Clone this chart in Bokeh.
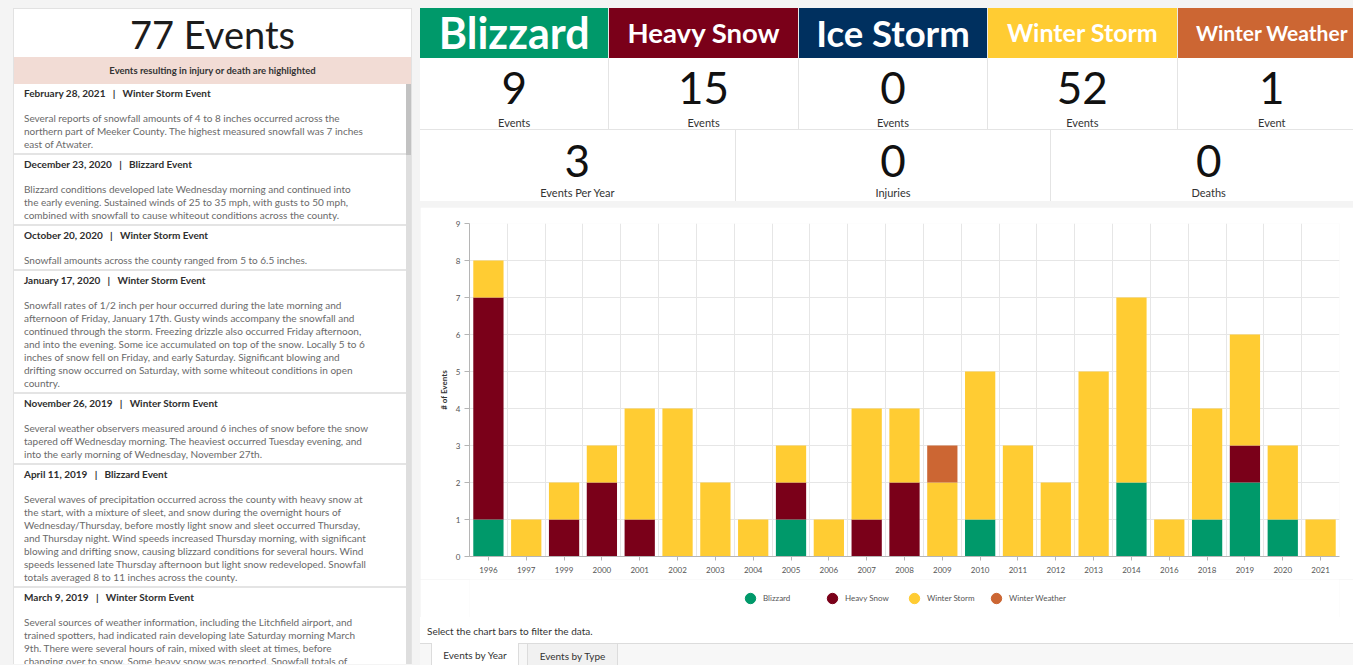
from bokeh.plotting import figure
from bokeh.models import ColumnDataSource, Range1d, FixedTicker, Legend, LegendItem, Div
from bokeh.layouts import row, column
from bokeh.embed import file_html
from bokeh.resources import INLINE

# ---------------- chart data ----------------
years = ["1996", "1997", "1999", "2000", "2001", "2002", "2003", "2004", "2005", "2006", "2007", "2008",
         "2009", "2010", "2011", "2012", "2013", "2014", "2016", "2018", "2019", "2020", "2021"]
blizzard = [1, 0, 0, 0, 0, 0, 0, 0, 1, 0, 0, 0, 0, 1, 0, 0, 0, 2, 0, 1, 2, 1, 0]
heavy_snow = [6, 0, 1, 2, 1, 0, 0, 0, 1, 0, 1, 2, 0, 0, 0, 0, 0, 0, 0, 0, 1, 0, 0]
winter_storm = [1, 1, 1, 1, 3, 4, 2, 1, 1, 1, 3, 2, 2, 4, 3, 2, 5, 5, 1, 3, 3, 2, 1]
winter_weather = [0, 0, 0, 0, 0, 0, 0, 0, 0, 0, 0, 0, 1, 0, 0, 0, 0, 0, 0, 0, 0, 0, 0]
type_names = ["Blizzard", "Heavy Snow", "Winter Storm", "Winter Weather"]
type_colors = ["#00996a", "#7a0019", "#ffcc33", "#cc6633"]
y_ticks = [0, 1, 2, 3, 4, 5, 6, 7, 8, 9]

# ---------------- summary cards ----------------
card_names = ["Blizzard", "Heavy Snow", "Ice Storm", "Winter Storm", "Winter Weather"]
card_colors = ["#00996a", "#7a0019", "#00305f", "#ffcc33", "#cc6633"]
card_font_px = [43, 27.5, 36.5, 25, 21]
card_counts = ["9", "15", "0", "52", "1"]
card_units = ["Events", "Events", "Events", "Events", "Event"]
summary_values = ["3", "0", "0"]
summary_labels = ["Events Per Year", "Injuries", "Deaths"]
total_events = "77 Events"
highlight_note = "Events resulting in injury or death are highlighted"

events = [
    ("February 28, 2021", "Winter Storm Event", [
        "Several reports of snowfall amounts of 4 to 8 inches occurred across the",
        "northern part of Meeker County. The highest measured snowfall was 7 inches",
        "east of Atwater."]),
    ("December 23, 2020", "Blizzard Event", [
        "Blizzard conditions developed late Wednesday morning and continued into",
        "the early evening. Sustained winds of 25 to 35 mph, with gusts to 50 mph,",
        "combined with snowfall to cause whiteout conditions across the county."]),
    ("October 20, 2020", "Winter Storm Event", [
        "Snowfall amounts across the county ranged from 5 to 6.5 inches."]),
    ("January 17, 2020", "Winter Storm Event", [
        "Snowfall rates of 1/2 inch per hour occurred during the late morning and",
        "afternoon of Friday, January 17th. Gusty winds accompany the snowfall and",
        "continued through the storm. Freezing drizzle also occurred Friday afternoon,",
        "and into the evening. Some ice accumulated on top of the snow. Locally 5 to 6",
        "inches of snow fell on Friday, and early Saturday. Significant blowing and",
        "drifting snow occurred on Saturday, with some whiteout conditions in open",
        "country."]),
    ("November 26, 2019", "Winter Storm Event", [
        "Several weather observers measured around 6 inches of snow before the snow",
        "tapered off Wednesday morning. The heaviest occurred Tuesday evening, and",
        "into the early morning of Wednesday, November 27th."]),
    ("April 11, 2019", "Blizzard Event", [
        "Several waves of precipitation occurred across the county with heavy snow at",
        "the start, with a mixture of sleet, and snow during the overnight hours of",
        "Wednesday/Thursday, before mostly light snow and sleet occurred Thursday,",
        "and Thursday night. Wind speeds increased Thursday morning, with significant",
        "blowing and drifting snow, causing blizzard conditions for several hours. Wind",
        "speeds lessened late Thursday afternoon but light snow redeveloped. Snowfall",
        "totals averaged 8 to 11 inches across the county."]),
    ("March 9, 2019", "Winter Storm Event", [
        "Several sources of weather information, including the Litchfield airport, and",
        "trained spotters, had indicated rain developing late Saturday morning March",
        "9th. There were several hours of rain, mixed with sleet at times, before",
        "changing over to snow. Some heavy snow was reported. Snowfall totals of"]),
]

FONT = "Lato, 'Open Sans', sans-serif"
BG = "#f4f4f4"

# ---------------- left panel ----------------
items_html = ""
for date, etype, lines in events:
    items_html += (
        '<div style="padding:3px 0 2px 10px;border-bottom:2px solid #e4e4e4;">'
        f'<div style="height:13px;line-height:13px;font-size:10px;font-weight:700;color:#2e2e2e;white-space:nowrap;">'
        f'{date}&nbsp;&nbsp;&nbsp;|&nbsp;&nbsp;&nbsp;{etype}</div>'
        '<div style="margin-top:12px;line-height:13px;font-size:10px;color:#6a6a6a;white-space:nowrap;">'
        + "<br>".join(lines) + '</div></div>'
    )

LEFT_H = 656
left_html = f'''
<div style="position:relative;width:399px;height:{LEFT_H}px;overflow:hidden;background:#ffffff;
 border:1px solid #e2e2e2;border-bottom:none;box-sizing:border-box;font-family:{FONT};">
  <div style="height:48px;line-height:50px;text-align:center;font-size:38px;color:#1c1c1c;">{total_events}</div>
  <div style="height:27px;line-height:27px;background:#f2dcd5;text-align:center;font-size:9.5px;
   font-weight:700;color:#333333;">{highlight_note}</div>
  <div style="position:relative;height:{LEFT_H - 76}px;overflow:hidden;">
    <div style="position:absolute;right:0;top:0;width:5px;height:100%;background:#dedede;"></div>
    <div style="position:absolute;right:0;top:0;width:5px;height:71px;background:#c2c2c2;"></div>
    <div style="margin-right:5px;overflow:hidden;">{items_html}</div>
  </div>
</div>'''
left_div = Div(text=left_html, width=399, height=LEFT_H, margin=(8, 0, 0, 13))

# ---------------- cards ----------------
RW = 933
cw = 189.4
head = "".join(
    f'<div style="width:{cw}px;flex:none;height:50px;background:{c};color:#ffffff;display:flex;align-items:center;'
    f'justify-content:center;font-size:{fs}px;font-weight:700;box-sizing:border-box;border-right:1px solid #e8e8e8;'
    f'white-space:nowrap;">{n}</div>'
    for n, c, fs in zip(card_names, card_colors, card_font_px))
counts = "".join(
    f'<div style="width:{cw}px;flex:none;height:72px;position:relative;box-sizing:border-box;border-right:1px solid #e4e4e4;">'
    f'<div style="position:absolute;left:0;right:0;top:7px;height:44px;line-height:44px;text-align:center;font-size:44px;color:#111111;">{v}</div>'
    f'<div style="position:absolute;left:0;right:0;top:59px;height:12px;line-height:12px;text-align:center;font-size:11px;color:#333333;">{u}</div>'
    '</div>'
    for v, u in zip(card_counts, card_units))
sw = cw * 5 / 3
summ = "".join(
    f'<div style="width:{sw}px;flex:none;height:71px;position:relative;box-sizing:border-box;border-right:1px solid #e4e4e4;">'
    f'<div style="position:absolute;left:0;right:0;top:8px;height:44px;line-height:44px;text-align:center;font-size:44px;color:#111111;">{v}</div>'
    f'<div style="position:absolute;left:0;right:0;top:57px;height:12px;line-height:12px;text-align:center;font-size:11px;color:#333333;">{u}</div>'
    '</div>'
    for v, u in zip(summary_values, summary_labels))
cards_html = f'''
<div style="width:{RW}px;height:193px;overflow:hidden;font-family:{FONT};">
 <div style="width:{cw*5}px;">
  <div style="display:flex;height:50px;">{head}</div>
  <div style="display:flex;height:72px;background:#ffffff;border-bottom:1px solid #e4e4e4;box-sizing:border-box;">{counts}</div>
  <div style="display:flex;height:71px;background:#ffffff;">{summ}</div>
 </div>
</div>'''
cards_div = Div(text=cards_html, width=RW, height=193, margin=(0, 0, 6, 0))

# ---------------- chart ----------------
x_idx = list(range(len(years)))
source = ColumnDataSource(data=dict(x=x_idx, year=years, **{
    "Blizzard": blizzard, "Heavy Snow": heavy_snow,
    "Winter Storm": winter_storm, "Winter Weather": winter_weather}))

FIG_H = 372
p = figure(output_backend="svg", toolbar_location=None,
           width=RW, height=FIG_H,
           min_border_left=49, min_border_right=RW - 49 - 870, min_border_top=16,
           min_border_bottom=FIG_H - 16 - 333,
           x_range=Range1d(-0.5, len(years) - 0.5), y_range=Range1d(0, 9),
           background_fill_color="#ffffff", border_fill_color="#ffffff",
           outline_line_color=None, margin=(0, 0, 0, 0))

p.vbar_stack(type_names, x="x", width=0.8, color=type_colors, line_color=None, source=source)

p.xaxis.ticker = FixedTicker(ticks=x_idx)
p.xaxis.major_label_overrides = {i: y for i, y in zip(x_idx, years)}
p.yaxis.ticker = FixedTicker(ticks=y_ticks)
p.xgrid.ticker = FixedTicker(ticks=[i + 0.5 for i in x_idx])
p.ygrid.ticker = FixedTicker(ticks=y_ticks)
p.xgrid.grid_line_color = "#e6e6e6"
p.ygrid.grid_line_color = "#e6e6e6"

for ax in (p.xaxis[0], p.yaxis[0]):
    ax.axis_line_color = "#b5b5b5"
    ax.major_tick_line_color = "#b5b5b5"
    ax.minor_tick_line_color = None
    ax.major_tick_in = 0
    ax.major_label_text_font = "Lato"
    ax.major_label_text_font_size = "8px"
    ax.major_label_text_color = "#555555"
p.xaxis.major_tick_out = 4
p.xaxis.major_label_standoff = 6
p.yaxis.major_tick_out = 5
p.yaxis.major_label_standoff = 4
p.yaxis.axis_label = "# of Events"
p.yaxis.axis_label_text_font = "Lato"
p.yaxis.axis_label_text_font_size = "8px"
p.yaxis.axis_label_text_font_style = "bold"
p.yaxis.axis_label_text_color = "#333333"
p.yaxis.axis_label_standoff = 4

# ---------------- legend (own strip below the chart) ----------------
LEG_H = 38
lf = figure(output_backend="svg", toolbar_location=None, width=RW, height=LEG_H,
            x_range=Range1d(0, 1), y_range=Range1d(0, 1),
            x_axis_type=None, y_axis_type=None,
            min_border_left=0, min_border_right=0, min_border_top=0, min_border_bottom=0,
            background_fill_color="#ffffff", border_fill_color="#ffffff",
            outline_line_color=None, margin=(0, 0, 0, 0))
lf.xgrid.visible = False
lf.ygrid.visible = False
legend_items = []
for name, col in zip(type_names, type_colors):
    # hidden renderers over the same data: only their legend swatch is shown
    r = lf.scatter(x="x", y=name, source=source, marker="circle", size=10,
                   fill_color=col, line_color=col, visible=False)
    legend_items.append(LegendItem(label=name, renderers=[r]))
legend = Legend(items=legend_items, orientation="horizontal", location=(268, 5),
                glyph_width=26, glyph_height=28, label_standoff=0, label_width=56,
                spacing=0, padding=0, margin=0, border_line_color=None,
                background_fill_alpha=0, inactive_fill_alpha=0, label_text_font="Lato",
                label_text_font_size="8px", label_text_color="#555555")
lf.add_layout(legend)

FOOT_H = 665 - 8 - 193 - 6 - FIG_H - LEG_H
footer_html = f'''
<div style="width:{RW}px;height:{FOOT_H}px;overflow:hidden;font-family:{FONT};position:relative;">
  <div style="height:26px;background:#ffffff;position:relative;">
    <div style="position:absolute;left:7px;top:8px;font-size:10px;line-height:12px;color:#333333;">Select the chart bars to filter the data.</div>
  </div>
  <div style="height:30px;background:#f7f7f7;border-top:1px solid #dcdcdc;position:relative;">
    <div style="position:absolute;left:11px;top:-1px;width:88px;height:30px;background:#ffffff;border:1px solid #dcdcdc;border-top:none;
      text-align:center;font-size:10px;line-height:24px;color:#333333;">Events by Year</div>
    <div style="position:absolute;left:107px;top:0;width:91px;height:30px;background:#f1f1f1;border-left:1px solid #dcdcdc;border-right:1px solid #dcdcdc;
      text-align:center;font-size:10px;line-height:24px;color:#333333;">Events by Type</div>
  </div>
</div>'''
footer_div = Div(text=footer_html, width=RW, height=FOOT_H, margin=(0, 0, 0, 0))

right_col = column(cards_div, p, lf, footer_div, margin=(8, 0, 0, 8), spacing=0)
layout = row(left_div, right_col, spacing=0, styles={"background-color": BG})

open("out.html", "w").write(file_html(layout, INLINE))
